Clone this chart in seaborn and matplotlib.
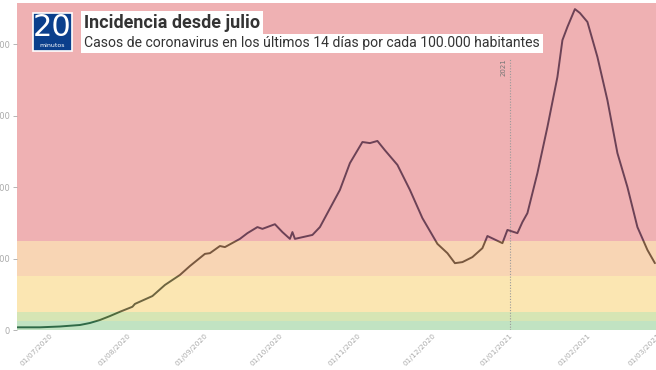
import pandas as pd
import numpy as np
import seaborn as sns
import matplotlib
matplotlib.use("Agg")
import matplotlib.pyplot as plt
import matplotlib.dates as mdates
from matplotlib.patches import Rectangle
from matplotlib import font_manager

# datos (incidencia acumulada 14 días / 100.000 hab.)
fechas = [
    "2020-06-18", "2020-06-27", "2020-07-05", "2020-07-13", "2020-07-17", "2020-07-21",
    "2020-07-25", "2020-07-29", "2020-08-03", "2020-08-04", "2020-08-11", "2020-08-16",
    "2020-08-22", "2020-08-26", "2020-09-01", "2020-09-03", "2020-09-07", "2020-09-09",
    "2020-09-15", "2020-09-18", "2020-09-22", "2020-09-24", "2020-09-29", "2020-10-02",
    "2020-10-05", "2020-10-06", "2020-10-07", "2020-10-14", "2020-10-17", "2020-10-20",
    "2020-10-25", "2020-10-29", "2020-11-03", "2020-11-06", "2020-11-09", "2020-11-12",
    "2020-11-17", "2020-11-22", "2020-11-27", "2020-12-03", "2020-12-07", "2020-12-10",
    "2020-12-13", "2020-12-17", "2020-12-21", "2020-12-23", "2020-12-29", "2020-12-31",
    "2021-01-04", "2021-01-06", "2021-01-08", "2021-01-12", "2021-01-16", "2021-01-20",
    "2021-01-22", "2021-01-24", "2021-01-27", "2021-01-29", "2021-02-01", "2021-02-05",
    "2021-02-09", "2021-02-13", "2021-02-17", "2021-02-21", "2021-02-25", "2021-02-28",
]
incidencia = [
    7.5, 7.5, 9.8, 14, 19.6, 28,
    39, 51, 65, 73, 95, 126,
    154, 179, 213, 215, 235, 232,
    255, 271, 288, 283, 296, 274,
    255, 274, 255, 266, 288, 327,
    392, 467, 526, 523, 529, 503,
    462, 392, 313, 241, 215, 187,
    190, 204, 229, 263, 243, 280,
    271, 302, 327, 439, 568, 708,
    811, 848, 898, 887, 862, 764,
    643, 495, 400, 288, 224, 187,
]

# bandas de riesgo
bandas_lim = [0, 25, 50, 150, 250, 1000]
bandas_col = ["#c1e3c2", "#d6e5b4", "#fbe6b2", "#f8d5b4", "#efb1b3"]
linea_col = ["#2f6a47", "#4e6a3c", "#6e6540", "#79583f", "#6c4256"]

y_ticks = [0, 200, 400, 600, 800]

df = pd.DataFrame({"fecha": pd.to_datetime(fechas), "incidencia": incidencia})

disponibles = {f.name for f in font_manager.fontManager.ttflist}
fuente = "Liberation Sans Narrow" if "Liberation Sans Narrow" in disponibles else "Roboto"

sns.set_style("white")
plt.rcParams["font.family"] = [fuente, "DejaVu Sans"]

W, H = 656, 370
fig = plt.figure(figsize=(W / 100, H / 100), dpi=100)
ax = fig.add_axes([17 / W, (H - 330) / H, (666 - 17) / W, 327 / H])

x0 = pd.Timestamp("2020-06-17 20:00")
x1 = x0 + pd.Timedelta(days=(666 - 17) / 2.5)
ax.set_xlim(x0, x1)
ax.set_ylim(0, 915)

for lo, hi, c in zip(bandas_lim[:-1], bandas_lim[1:], bandas_col):
    ax.axhspan(lo, hi, color=c, lw=0, zorder=0)

# la línea cambia de tono según la banda
for lo, hi, c in zip(bandas_lim[:-1], bandas_lim[1:], linea_col):
    sns.lineplot(data=df, x="fecha", y="incidencia", color=c, lw=1.4, ax=ax, zorder=3)
    ln = ax.lines[-1]
    clip = Rectangle((mdates.date2num(x0), lo), 400, hi - lo, transform=ax.transData)
    ln.set_clip_path(clip)

fin_anio = pd.Timestamp("2021-01-01")
ax.plot([fin_anio, fin_anio], [0, 760], color="#999999", lw=0.8, ls=(0, (1, 1.5)), zorder=2)
ax.text(fin_anio - pd.Timedelta(days=2.5), 735, "2021", rotation=90, fontsize=5,
        color="#777777", ha="center", va="center", family="DejaVu Sans")

ax.xaxis.set_major_locator(mdates.MonthLocator())
ax.xaxis.set_major_formatter(mdates.DateFormatter("%d/%m/%Y"))
ax.set_yticks(y_ticks)
ax.set_xlabel("")
ax.set_ylabel("")
for lab in ax.get_xticklabels():
    lab.set_rotation(45)
    lab.set_ha("right")
    lab.set_rotation_mode("anchor")
ax.tick_params(axis="x", labelsize=5.3, colors="#aaaaaa", length=0, pad=1.5)
ax.tick_params(axis="y", labelsize=6, colors="#aaaaaa", length=3, width=0.6, pad=2, left=True)
for lab in ax.get_xticklabels() + ax.get_yticklabels():
    lab.set_family("DejaVu Sans")
sns.despine(ax=ax, left=True, bottom=True, top=True, right=True)

# logo 20minutos
fig.patches.append(Rectangle((33 / W, 1 - 51 / H), 39 / W, 38 / H, transform=fig.transFigure,
                             facecolor="#0b3f8c", edgecolor="white", lw=1.2, zorder=5))
fig.text(52.5 / W, 1 - 28 / H, "20", color="white", fontsize=22, ha="center", va="center",
         family="DejaVu Sans", zorder=6)
fig.text(52.5 / W, 1 - 45.5 / H, "minutos", color="white", fontsize=4.5, ha="center",
         va="center", family="DejaVu Sans", zorder=6)

fig.text(84 / W, 1 - 23 / H, "Incidencia desde julio", fontsize=13, fontweight="bold",
         color="#333333", ha="left", va="center",
         bbox=dict(boxstyle="square,pad=0.15", fc="white", ec="none"))
fig.text(84 / W, 1 - 43.5 / H, "Casos de coronavirus en los últimos 14 días por cada 100.000 habitantes",
         fontsize=10.1, color="#333333", ha="left", va="center",
         bbox=dict(boxstyle="square,pad=0.2", fc="white", ec="none"))

fig.savefig("out.png", dpi=100)
